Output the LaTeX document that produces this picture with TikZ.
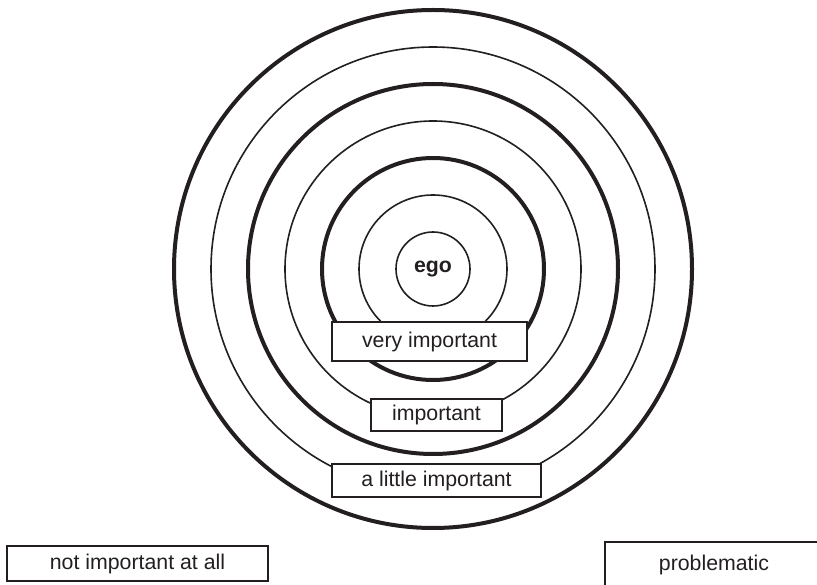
\documentclass[tikz,border=0pt]{standalone}
\usepackage{fontspec}
\setmainfont{Liberation Sans}
\definecolor{ink}{HTML}{231F20}
\begin{document}
\begin{tikzpicture}[x=1pt,y=-1pt,
  thinring/.style={draw=ink, line width=1.6pt},
  thickring/.style={draw=ink, line width=4pt},
  labeltext/.style={inner sep=0pt, text=ink, font=\fontsize{21.3}{25}\selectfont},
  labelbox/.style={labeltext, draw=ink, line width=1.4pt, fill=white},
  boxedge/.style={draw=ink, line width=1.4pt},
]
\useasboundingbox (0,0) rectangle (817,585);
\clip (0,0) rectangle (817,585);

% concentric rings around the ego
\coordinate (c) at (433,269);
\foreach \r in {259,185,111} \draw[thickring] (c) circle[radius=\r];
\foreach \r in {222,148,74} \draw[thinring] (c) circle[radius=\r];
\node[circle, thinring, minimum size=74pt, inner sep=0pt, text=ink,
  font=\bfseries\fontsize{21.3}{25}\selectfont] (ego) at (c) {ego};

% ring labels
\node[labelbox, minimum width=195pt, minimum height=39pt] (vimp) at (429.5,341.5) {very important};
\node[labelbox, minimum width=131pt, minimum height=32pt] (imp) at (436.5,415) {important};
\node[labelbox, minimum width=209pt, minimum height=33pt] (limp) at (436.5,480.5) {a little important};

% outside categories
\node[labelbox, minimum width=261pt, minimum height=35pt] (nimp) at (137.5,563.5) {not important at all};
\node[labeltext, minimum width=218pt, minimum height=46pt] (prob) at (714,565) {problematic};
\draw[boxedge] (prob.south west) -- (prob.north west) -- ([xshift=20pt]prob.north east);
\end{tikzpicture}
\end{document}
